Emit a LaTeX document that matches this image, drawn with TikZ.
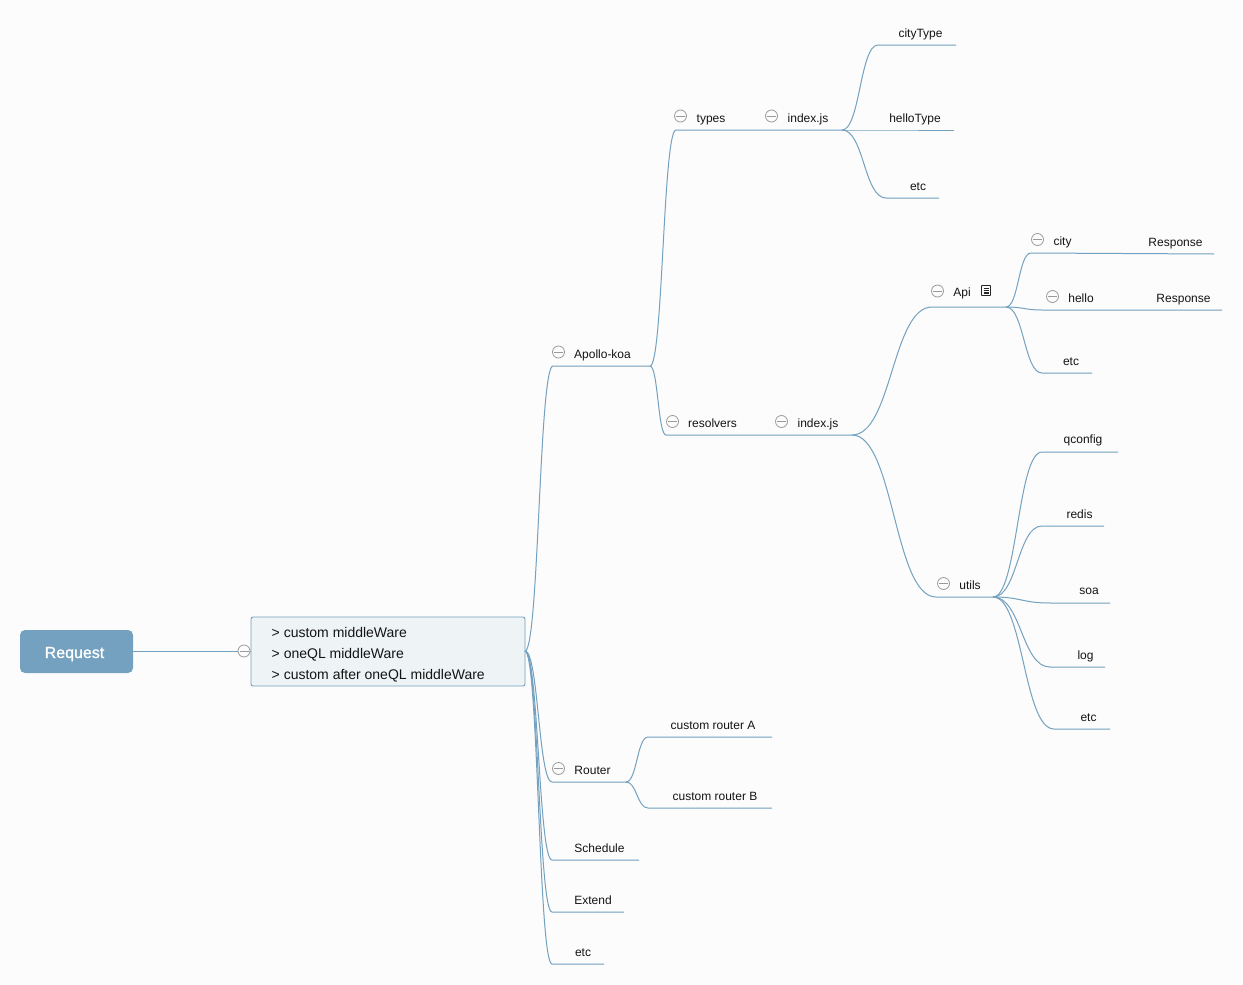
\documentclass[tikz,border=0pt]{standalone}
\usepackage{fontspec}
\setmainfont{Liberation Sans}
\definecolor{linec}{HTML}{73A1BF}
\definecolor{boxf}{HTML}{EEF3F6}
\definecolor{bgc}{HTML}{FCFCFC}
\definecolor{iconc}{HTML}{9A9A9A}
\newcommand{\px}{\fontsize{12}{14}\selectfont}
\tikzset{
  lbl/.style={inner sep=0pt,anchor=base,font=\px,text=black!92},
  link/.style={draw=linec,line width=1pt},
  collapse/.style={circle,draw=iconc,line width=0.8pt,minimum size=12pt,inner sep=0pt,fill=bgc,
    path picture={\draw[iconc,line width=0.8pt] ([xshift=-4.5pt]path picture bounding box.center) -- ([xshift=4.5pt]path picture bounding box.center);}},
}
% S-curve from a fork point to the start of a child's underline, then along it
\newcommand{\branch}[3]{\draw[link] (#1) .. controls ($(#1)!0.5!(#2 |- #1)$) and ($(#2)!0.5!(#1 |- #2)$) .. (#2) -- (#3);}
\usetikzlibrary{calc}
\begin{document}
\begin{tikzpicture}[x=1pt,y=-1pt]
\useasboundingbox[fill=bgc] (0,0) rectangle (1243,985);
% forks and line ends
\coordinate (rootR) at (525,651);
\foreach \n/\x/\y in {
 apolloS/553/366, apolloE/650/366,
 typesS/676/130, typesE/842/130,
 resolversS/666/435, resolversE/852/435,
 cityTypeS/878/45, cityTypeE/956/45,
 helloTypeS/884/130, helloTypeE/954/130,
 etcAS/886/198, etcAE/939/198,
 apiS/932/307, apiE/1006/307,
 utilsS/936/597, utilsE/993/597,
 cityS/1031/253, cityE/1214/254,
 helloS/1042/310, helloE/1222/310,
 etcBS/1042/373, etcBE/1092/373,
 qconfigS/1042/452, qconfigE/1118/452,
 redisS/1042/526, redisE/1104/526,
 soaS/1050/603, soaE/1110/603,
 logS/1050/667, logE/1105/667,
 etcCS/1054/729, etcCE/1110/729,
 routerS/552/782, routerE/626/782,
 routerAS/648/737, routerAE/772/737,
 routerBS/648/808, routerBE/772/808,
 scheduleS/552/860, scheduleE/639/860,
 extendS/552/912, extendE/624/912,
 etcDS/552/964, etcDE/604/964}
 {\coordinate (\n) at (\x,\y);}
% nodes
\node[fill=linec,rounded corners=5pt,minimum width=113pt,minimum height=43pt,inner sep=0pt] (request) at (76.5,651.5) {};
\node[font=\fontsize{16}{18}\selectfont,text=white,inner sep=0pt,anchor=base] (requestT) at (74.5,658) {\addfontfeature{FakeBold=1}Request};
\node[draw=linec,fill=boxf,line width=0.9pt,rounded corners=2pt,minimum width=274pt,minimum height=69pt,inner sep=0pt] (box) at (388,651.5) {};
\foreach \n/\y/\t in {b1/637/{> custom middleWare}, b2/658/{> oneQL middleWare}, b3/679/{> custom after oneQL middleWare}}
 {\node[inner sep=0pt,anchor=base west,font=\fontsize{14}{16}\selectfont,text=black!92] (\n) at (271.5,\y) {\t};}
\draw[link] (request.east |- 0,651) -- (box.west |- 0,651);
\node[collapse] (cRoot) at (244,651) {};
% connectors
\branch{rootR}{apolloS}{apolloE}
\branch{apolloE}{typesS}{typesE}
\branch{apolloE}{resolversS}{resolversE}
\branch{typesE}{cityTypeS}{cityTypeE}
\branch{typesE}{helloTypeS}{helloTypeE}
\branch{typesE}{etcAS}{etcAE}
\branch{resolversE}{apiS}{apiE}
\branch{resolversE}{utilsS}{utilsE}
\branch{apiE}{cityS}{cityE}
\branch{apiE}{helloS}{helloE}
\branch{apiE}{etcBS}{etcBE}
\branch{utilsE}{qconfigS}{qconfigE}
\branch{utilsE}{redisS}{redisE}
\branch{utilsE}{soaS}{soaE}
\branch{utilsE}{logS}{logE}
\branch{utilsE}{etcCS}{etcCE}
\branch{rootR}{routerS}{routerE}
\branch{routerE}{routerAS}{routerAE}
\branch{routerE}{routerBS}{routerBE}
\branch{rootR}{scheduleS}{scheduleE}
\branch{rootR}{extendS}{extendE}
\branch{rootR}{etcDS}{etcDE}
% labels
\foreach \n/\x/\y/\t in {
 tApollo/602.5/358/Apollo-koa, tTypes/711/122/types, tIdxA/808/122/index.js,
 tCityType/920.5/37/cityType, tHelloType/915/122/helloType, tEtcA/918/190/etc,
 tResolvers/712.5/427/resolvers, tIdxB/818/427/index.js,
 tApi/962/296/Api, tCity/1062.5/245/city, tRespA/1175.5/246/Response,
 tHello/1081/302/hello, tRespB/1183.5/302/Response, tEtcB/1071/365/etc,
 tUtils/970/589/utils, tQconfig/1083/443/qconfig, tRedis/1079.5/518/redis,
 tSoa/1089/594/soa, tLog/1085.5/659/log, tEtcC/1088.5/721/etc,
 tRouter/592.5/774/Router, tRouterA/713/729/custom router A, tRouterB/715/800/custom router B,
 tSchedule/599.5/852/Schedule, tExtend/593/904/Extend, tEtcD/583/956/etc}
 {\node[lbl] (\n) at (\x,\y) {\t};}
% collapse icons
\foreach \n/\x/\y in {cApollo/558.5/352, cTypes/680.5/116, cIdxA/771.5/116, cResolvers/672.5/421.5, cIdxB/781.5/421.5,
 cApi/937.5/291, cCity/1037.5/239.5, cHello/1052.5/296.5, cUtils/943.5/583.5, cRouter/558.5/768.5}
 {\node[collapse] (\n) at (\x,\y) {};}
% note icon
\node[draw=black!85,line width=0.8pt,minimum width=9pt,minimum height=10pt,inner sep=0pt,rounded corners=0.5pt] (note) at (986,290.5) {};
\foreach \d in {-2.5,-0.5,1.5,3}
 {\draw[black!85,line width=0.6pt] ([xshift=-2.5pt,yshift=-\d pt]note.center) -- ([xshift=2.5pt,yshift=-\d pt]note.center);}
\end{tikzpicture}
\end{document}
